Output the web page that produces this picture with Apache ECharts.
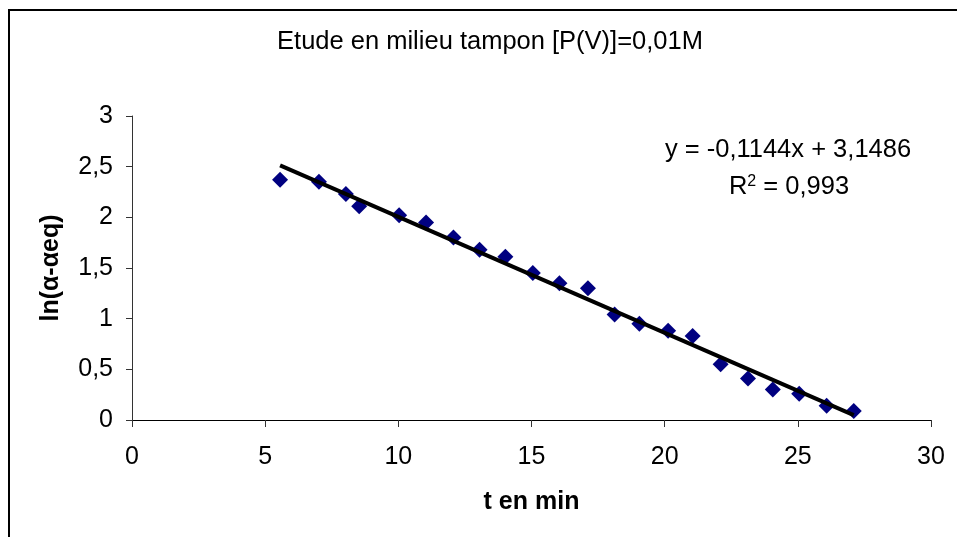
<!DOCTYPE html>
<html>
<head>
<meta charset="utf-8">
<script src="https://cdn.jsdelivr.net/npm/echarts@6/dist/echarts.min.js"></script>
<style>
  html, body { margin: 0; padding: 0; background: #fff; }
  #chart { width: 957px; height: 537px; }
</style>
</head>
<body>
<div id="chart"></div>
<script>
const TITLE = 'Etude en milieu tampon [P(V)]=0,01M'
const X_NAME = 't en min'
const Y_NAME = 'ln(α-αeq)'

// measured points (t in min, ln(alpha - alpha_eq))
const tMin = [5.56, 7.02, 8.03, 8.53, 10.03, 11.04, 12.07, 13.05, 14.02, 15.05, 16.05,
  17.12, 18.12, 19.05, 20.13, 21.05, 22.1, 23.13, 24.06, 25.05, 26.08, 27.1]
const lnVals = [2.37, 2.35, 2.23, 2.11, 2.02, 1.95, 1.80, 1.68, 1.61, 1.45, 1.35,
  1.30, 1.04, 0.95, 0.88, 0.83, 0.55, 0.41, 0.30, 0.26, 0.14, 0.09]

// linear trendline as printed on the chart
const slope = -0.1144
const intercept = 3.1486
const r2 = 0.993

const xTicks = [0, 5, 10, 15, 20, 25, 30]
const yTicks = [0, 0.5, 1, 1.5, 2, 2.5, 3]

const frFmt = (v) => String(v).replace('.', ',')
const font = '"Liberation Sans", Arial, sans-serif'

const points = tMin.map((t, i) => [t, lnVals[i]])
const tStart = tMin[0]
const tEnd = tMin[tMin.length - 1]
const trend = [[tStart, slope * tStart + intercept], [tEnd, slope * tEnd + intercept]]

const eqText = 'y = ' + frFmt(slope) + 'x + ' + frFmt(intercept)
const r2Text = 'R{sup|2} = ' + frFmt(r2)

const chart = echarts.init(document.getElementById('chart'), null, { renderer: 'canvas' })

chart.setOption({
  backgroundColor: '#fff',
  animation: false,
  textStyle: { fontFamily: font },
  title: {
    text: TITLE,
    left: 490,
    top: 42,
    padding: 0,
    textAlign: 'center',
    textVerticalAlign: 'middle',
    textStyle: { fontFamily: font, fontSize: 25.5, fontWeight: 'normal', color: '#000' }
  },
  grid: { left: 132, right: 26, top: 116, bottom: 117, containLabel: false },
  xAxis: {
    type: 'value',
    min: xTicks[0],
    max: xTicks[xTicks.length - 1],
    interval: 5,
    name: X_NAME,
    nameLocation: 'middle',
    nameGap: 70,
    nameTextStyle: { fontFamily: font, fontSize: 25, fontWeight: 'bold', color: '#000' },
    axisLine: { onZero: false, lineStyle: { color: '#000', width: 1 } },
    axisTick: { show: true, length: 7, lineStyle: { color: '#333' } },
    axisLabel: { margin: 25, fontSize: 25, color: '#000', fontFamily: font, formatter: frFmt },
    splitLine: { show: false }
  },
  yAxis: {
    type: 'value',
    min: yTicks[0],
    max: yTicks[yTicks.length - 1],
    interval: 0.5,
    name: Y_NAME,
    nameLocation: 'middle',
    nameRotate: 90,
    nameGap: 68,
    nameTextStyle: { fontFamily: font, fontSize: 25, fontWeight: 'bold', color: '#000' },
    axisLine: { show: true, onZero: false, lineStyle: { color: '#333', width: 1 } },
    axisTick: { show: true, length: 6, lineStyle: { color: '#333' } },
    axisLabel: { margin: 19, fontSize: 25, color: '#000', fontFamily: font, formatter: frFmt },
    splitLine: { show: false }
  },
  graphic: [
    {
      type: 'rect',
      shape: { x: 9, y: 10, width: 1200, height: 1200 },
      style: { fill: 'none', stroke: '#000', lineWidth: 2 },
      silent: true,
      z: 0
    },
    {
      type: 'text',
      x: 788,
      y: 150,
      style: {
        text: eqText,
        fontFamily: font,
        fontSize: 25.5,
        fill: '#000',
        align: 'center',
        verticalAlign: 'middle'
      },
      z: 10
    },
    {
      type: 'text',
      x: 789,
      y: 186.5,
      style: {
        text: r2Text,
        fontFamily: font,
        fontSize: 25.5,
        fill: '#000',
        align: 'center',
        verticalAlign: 'middle',
        rich: {
          sup: { fontFamily: font, fontSize: 16, verticalAlign: 'top', fill: '#000' }
        }
      },
      z: 10
    }
  ],
  series: [
    {
      name: 'points',
      type: 'scatter',
      data: points,
      symbol: 'diamond',
      symbolSize: [16, 16],
      itemStyle: { color: '#000080', opacity: 1 },
      z: 2
    },
    {
      name: 'trend',
      type: 'line',
      data: trend,
      showSymbol: false,
      symbol: 'none',
      lineStyle: { color: '#000', width: 4 },
      z: 3
    }
  ]
})
</script>
</body>
</html>
